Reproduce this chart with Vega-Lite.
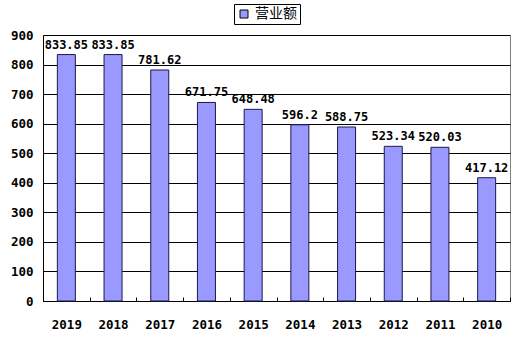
{
  "$schema": "https://vega.github.io/schema/vega-lite/v6.json",
  "autosize": {"type": "none"},
  "width": 467,
  "height": 266,
  "padding": {"left": 43, "top": 35, "right": 19, "bottom": 57},
  "background": "white",
  "config": {
    "view": {"stroke": "#808080", "strokeWidth": 1},
    "axis": {"domainColor": "#000000", "labelColor": "#000000", "labelFont": "DejaVu Sans Mono", "labelFontWeight": "bold", "labelFontSize": 12.5, "title": null}
  },
  "data": {
    "values": [
      {"year": "2019", "value": 833.85, "series": "营业额"},
      {"year": "2018", "value": 833.85, "series": "营业额"},
      {"year": "2017", "value": 781.62, "series": "营业额"},
      {"year": "2016", "value": 671.75, "series": "营业额"},
      {"year": "2015", "value": 648.48, "series": "营业额"},
      {"year": "2014", "value": 596.2, "series": "营业额"},
      {"year": "2013", "value": 588.75, "series": "营业额"},
      {"year": "2012", "value": 523.34, "series": "营业额"},
      {"year": "2011", "value": 520.03, "series": "营业额"},
      {"year": "2010", "value": 417.12, "series": "营业额"}
    ]
  },
  "encoding": {
    "x": {
      "field": "year", "type": "ordinal", "sort": "descending",
      "scale": {"paddingInner": 0, "paddingOuter": 0},
      "axis": {"labelAngle": 0, "tickBand": "extent", "ticks": true, "tickSize": -4, "tickColor": "#000000", "labelPadding": 21, "grid": false}
    },
    "y": {
      "field": "value", "type": "quantitative",
      "scale": {"domain": [0, 900], "nice": false},
      "axis": {"values": [0, 100, 200, 300, 400, 500, 600, 700, 800, 900], "ticks": false, "labelPadding": 10, "grid": true, "gridColor": "#000000", "gridOpacity": 1, "gridWidth": 1}
    }
  },
  "layer": [
    {
      "mark": {"type": "bar", "width": 18, "stroke": "#1a1a4a", "strokeWidth": 1},
      "encoding": {
        "color": {
          "field": "series", "type": "nominal",
          "scale": {"range": ["#9999ff"]},
          "legend": {
            "title": null, "orient": "none", "legendX": 191, "legendY": -31,
            "symbolType": "square", "symbolSize": 64, "symbolStrokeColor": "#000000", "symbolStrokeWidth": 1,
            "labelFont": "Noto Sans CJK SC", "labelFontSize": 14, "labelColor": "#000000",
            "strokeColor": "#000000", "padding": 3, "fillColor": "white"
          }
        }
      }
    },
    {
      "mark": {"type": "text", "font": "DejaVu Sans Mono", "fontWeight": "bold", "fontSize": 12, "color": "#000000", "baseline": "alphabetic", "dy": -6},
      "encoding": {
        "text": {"field": "value", "type": "quantitative", "format": ""}
      }
    }
  ]
}
